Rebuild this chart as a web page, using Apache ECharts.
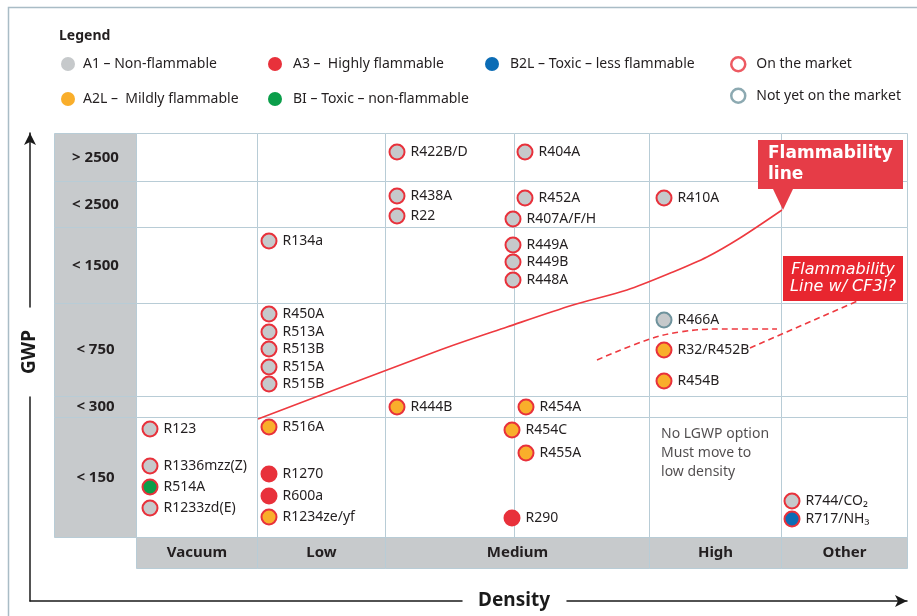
<!DOCTYPE html>
<html><head><meta charset="utf-8">
<script src="https://cdn.jsdelivr.net/npm/echarts@6/dist/echarts.min.js"></script>
<style>html,body{margin:0;padding:0;background:#fff}#c{width:917px;height:616px}</style>
</head><body><div id="c"></div>
<script>
const FONT = '"Noto Sans", "Open Sans", sans-serif';
const TXT = '#231f20';

// table structure (density units horizontally, GWP-band units vertically)
const headerEdges = [0, 82];
const colEdges = [82, 203, 331, 460, 595, 727, 853];
const rowEdges = [31, 151, 172, 265, 341, 387, 435];
const gwpLabels = ['< 150', '< 300', '< 750', '< 1500', '< 2500', '> 2500'];
const densityLabels = ['Vacuum', 'Low', 'Medium', 'High', 'Other'];
const densitySpans = [[82, 203], [203, 331], [331, 595], [595, 727], [727, 853]];
const densityRow = [0, 31];

// refrigerants: [name, density position, GWP position]
const a1OnMarket = [
  ['R422B/D', 343, 416], ['R404A', 471, 416],
  ['R438A', 343, 372], ['R22', 343, 352], ['R452A', 471, 370], ['R407A/F/H', 459, 349], ['R410A', 610, 370],
  ['R134a', 215, 327], ['R449A', 459, 323], ['R449B', 459, 306], ['R448A', 459, 288],
  ['R450A', 215, 254], ['R513A', 215, 236], ['R513B', 215, 219], ['R515A', 215, 201], ['R515B', 215, 184],
  ['R123', 96, 139], ['R1336mzz(Z)', 96, 102], ['R1233zd(E)', 96, 60], ['R744/CO₂', 738, 67]
];
const a1NotYet = [['R466A', 610, 248]];
const a2l = [
  ['R32/R452B', 610, 218], ['R454B', 610, 187], ['R444B', 343, 161], ['R454A', 472, 161],
  ['R516A', 215, 141], ['R1234ze/yf', 215, 51], ['R454C', 458, 138], ['R455A', 472, 115]
];
const a3 = [['R1270', 215, 94], ['R600a', 215, 72], ['R290', 458, 50]];
const bi = [['R514A', 96, 81]];
const b2l = [['R717/NH₃', 738, 49]];

const flammabilityLine = [[204, 149], [386, 218], [453, 241], [519, 263], [573, 278], [619, 296], [653, 311], [686, 330], [728, 358]];
const cf3iLineA = [[543, 208], [593, 228], [626, 236], [666, 239], [723, 239]];
const cf3iLineB = [[696, 220], [806, 268]];

const legendNames = {
  a1: 'A1 – Non-flammable', a2l: 'A2L –  Mildly flammable', a3: 'A3 –  Highly flammable',
  bi: 'BI – Toxic – non-flammable', b2l: 'B2L – Toxic – less flammable',
  on: 'On the market', notYet: 'Not yet on the market'
};

const C = { gray: '#c6c9cb', orange: '#f9ae2b', red: '#e8313b', green: '#0a9e4a', blue: '#0b6cb5', ring: '#e8313b', ringNew: '#6f939d', line: '#ee3a40', grid: '#b8ccd6', head: '#c7cacc' };

// build table cells
const cells = [];
for (let i = 0; i < gwpLabels.length; i++) {
  cells.push({ x0: headerEdges[0], x1: headerEdges[1], y0: rowEdges[i], y1: rowEdges[i + 1], fill: C.head, label: gwpLabels[i] });
  for (let j = 0; j < colEdges.length - 1; j++) {
    cells.push({ x0: colEdges[j], x1: colEdges[j + 1], y0: rowEdges[i], y1: rowEdges[i + 1], fill: '#fff', label: '' });
  }
}
densityLabels.forEach((d, k) => cells.push({ x0: densitySpans[k][0], x1: densitySpans[k][1], y0: densityRow[0], y1: densityRow[1], fill: C.head, label: d }));

const labelCfg = { show: true, position: 'right', distance: 5, formatter: '{b}', color: TXT, fontSize: 14, fontFamily: FONT };
function pts(arr, extra) { return arr.map(d => Object.assign({ name: d[0], value: [d[1], d[2]] }, extra || {})); }
function scatter(name, data, fill) {
  return { type: 'scatter', name, xAxisIndex: 0, yAxisIndex: 0, symbol: 'circle', symbolSize: 15, data,
    itemStyle: { color: fill, borderColor: C.ring, borderWidth: 2, opacity: 1 }, label: labelCfg, emphasis: { disabled: true }, silent: true, z: 5 };
}

const frameLine = { color: '#1a1a1a', width: 1.5 };
const hiddenAxis = (g) => ({ gridIndex: g, type: 'value', min: 0, max: 1, show: false });
const legendText = (pad) => ({ fontFamily: FONT, fontSize: 14, color: TXT, padding: [0, 0, 0, pad] });

const option = {
  animation: false,
  backgroundColor: '#fff',
  graphic: [
    { type: 'polyline', silent: true, shape: { points: [[8.5, 616], [8.5, 7.5], [917, 7.5]] }, style: { stroke: '#a9bcc6', lineWidth: 1.5, fill: null } }
  ],
  title: { text: 'Legend', left: 54, top: 24, textStyle: { fontFamily: FONT, fontSize: 14, fontWeight: 'bold', color: TXT } },
  legend: [
    { left: 56, top: 52, orient: 'vertical', itemGap: 21, itemWidth: 14, itemHeight: 14, icon: 'circle', selectedMode: false,
      textStyle: legendText(3),
      data: [{ name: legendNames.a1, itemStyle: { borderWidth: 0 } }, { name: legendNames.a2l, itemStyle: { borderWidth: 0 } }] },
    { left: 263, top: 52, orient: 'vertical', itemGap: 21, itemWidth: 14, itemHeight: 14, icon: 'circle', selectedMode: false,
      textStyle: legendText(6),
      data: [{ name: legendNames.a3, itemStyle: { borderWidth: 0 } }, { name: legendNames.bi, itemStyle: { borderWidth: 0 } }] },
    { left: 480, top: 52, orient: 'vertical', itemGap: 21, itemWidth: 14, itemHeight: 14, icon: 'circle', selectedMode: false,
      textStyle: legendText(6),
      data: [{ name: legendNames.b2l, itemStyle: { borderWidth: 0 } }] },
    { left: 725, top: 51, orient: 'vertical', itemGap: 15, itemWidth: 14, itemHeight: 14, icon: 'circle', selectedMode: false,
      textStyle: legendText(6),
      data: [{ name: legendNames.on, itemStyle: { color: '#fff', borderColor: C.ring, borderWidth: 2.5 } },
             { name: legendNames.notYet, itemStyle: { color: '#fff', borderColor: C.ringNew, borderWidth: 2.5 } }] }
  ],
  grid: [
    { left: 54, right: 10, top: 133, bottom: 48 },
    { left: 30, top: 397, width: 432, bottom: 15 },
    { left: 567, right: 10, bottom: 15, height: 20 },
    { left: 30, top: 133, height: 174, width: 20 }
  ],
  xAxis: [
    { gridIndex: 0, type: 'value', min: 0, max: 853, show: false },
    { gridIndex: 1, type: 'value', min: 0, max: 1, axisLine: { show: true, onZero: false, lineStyle: frameLine }, axisTick: { show: false }, axisLabel: { show: false }, splitLine: { show: false } },
    { gridIndex: 2, type: 'value', min: 0, max: 1, axisLine: { show: true, onZero: false, symbol: ['none', 'arrow'], symbolSize: [9, 12], lineStyle: frameLine },
      axisTick: { show: false }, axisLabel: { show: false }, splitLine: { show: false },
      name: 'Density', nameLocation: 'start', nameGap: 17, nameTextStyle: { fontFamily: FONT, fontSize: 19, fontWeight: 'bold', color: '#1a1a1a' } },
    hiddenAxis(3)
  ],
  yAxis: [
    { gridIndex: 0, type: 'value', min: 0, max: 435, show: false },
    { gridIndex: 1, type: 'value', min: 0, max: 1, axisLine: { show: true, onZero: false, lineStyle: frameLine }, axisTick: { show: false }, axisLabel: { show: false }, splitLine: { show: false } },
    hiddenAxis(2),
    { gridIndex: 3, type: 'value', min: 0, max: 1, axisLine: { show: true, onZero: false, symbol: ['none', 'arrow'], symbolSize: [9, 12], lineStyle: frameLine },
      axisTick: { show: false }, axisLabel: { show: false }, splitLine: { show: false },
      name: 'GWP', nameLocation: 'start', nameGap: 23, nameRotate: 90, nameTextStyle: { fontFamily: FONT, fontSize: 19, fontWeight: 'bold', color: '#1a1a1a' } }
  ],
  series: [
    { type: 'custom', name: 'table', xAxisIndex: 0, yAxisIndex: 0, silent: true, z: 1,
      data: cells.map(c => [c.x0, c.x1, c.y0, c.y1]),
      renderItem(params, api) {
        const c = cells[params.dataIndex];
        const p0 = api.coord([c.x0, c.y1]);
        const p1 = api.coord([c.x1, c.y0]);
        const x = Math.round(p0[0]) + 0.5, y = Math.round(p0[1]) + 0.5;
        const w = Math.round(p1[0]) - Math.round(p0[0]), h = Math.round(p1[1]) - Math.round(p0[1]);
        const el = { type: 'rect', shape: { x, y, width: w, height: h }, style: { fill: c.fill, stroke: C.grid, lineWidth: 1 } };
        if (c.label) {
          el.textContent = { style: { text: c.label, fontFamily: FONT, fontSize: 15, fontWeight: 'bold', fill: TXT } };
          el.textConfig = { position: 'inside' };
        }
        return el;
      } },
    { type: 'line', name: 'Flammability line', xAxisIndex: 0, yAxisIndex: 0, data: flammabilityLine, smooth: 0.3, symbol: 'none', silent: true, z: 4,
      lineStyle: { color: C.line, width: 1.6 },
      markPoint: { silent: true, data: [
        { coord: [776.5, 403.5], symbol: 'rect', symbolSize: [145, 49], itemStyle: { color: '#e63c47' },
          label: { show: true, position: 'insideLeft', distance: 10, formatter: 'Flammability\nline', color: '#fff', fontFamily: 'DejaVu Sans', fontWeight: 'bold', fontSize: 17, lineHeight: 21 } },
        { coord: [729, 368.5], symbol: 'triangle', symbolRotate: 180, symbolSize: [20, 21], itemStyle: { color: '#e63c47' }, label: { show: false } },
        { coord: [789, 289.5], symbol: 'rect', symbolSize: [120, 45], itemStyle: { color: '#e8262f' },
          label: { show: true, position: 'inside', formatter: 'Flammability\nLine w/ CF3I?', color: '#fff', fontFamily: 'DejaVu Sans', fontStyle: 'italic', fontSize: 16, lineHeight: 17 } }
      ] } },
    { type: 'line', name: 'cf3iA', xAxisIndex: 0, yAxisIndex: 0, data: cf3iLineA, smooth: 0.4, symbol: 'none', silent: true, z: 4,
      lineStyle: { color: C.line, width: 1.6, type: [6, 4] } },
    { type: 'line', name: 'cf3iB', xAxisIndex: 0, yAxisIndex: 0, data: cf3iLineB, symbol: 'none', silent: true, z: 4,
      lineStyle: { color: C.line, width: 1.6, type: [6, 4] } },
    { type: 'scatter', name: 'note', xAxisIndex: 0, yAxisIndex: 0, symbolSize: 0.1, silent: true, z: 5,
      data: [{ name: 'No LGWP option\nMust move to\nlow density', value: [607, 115] }],
      label: { show: true, position: 'right', distance: 0, formatter: '{b}', color: TXT, fontSize: 14, lineHeight: 19, fontFamily: FONT } },
    scatter(legendNames.a1, pts(a1OnMarket).concat(pts(a1NotYet, { itemStyle: { borderColor: C.ringNew } })), C.gray),
    scatter(legendNames.a2l, pts(a2l), C.orange),
    scatter(legendNames.a3, pts(a3), C.red),
    scatter(legendNames.bi, pts(bi), C.green),
    scatter(legendNames.b2l, pts(b2l), C.blue),
    { type: 'scatter', name: legendNames.on, data: [], itemStyle: { color: '#fff', borderColor: C.ring, borderWidth: 2.5 } },
    { type: 'scatter', name: legendNames.notYet, data: [], itemStyle: { color: '#fff', borderColor: C.ringNew, borderWidth: 2.5 } }
  ]
};

const chart = echarts.init(document.getElementById('c'));
chart.setOption(option);
</script>
</body></html>
